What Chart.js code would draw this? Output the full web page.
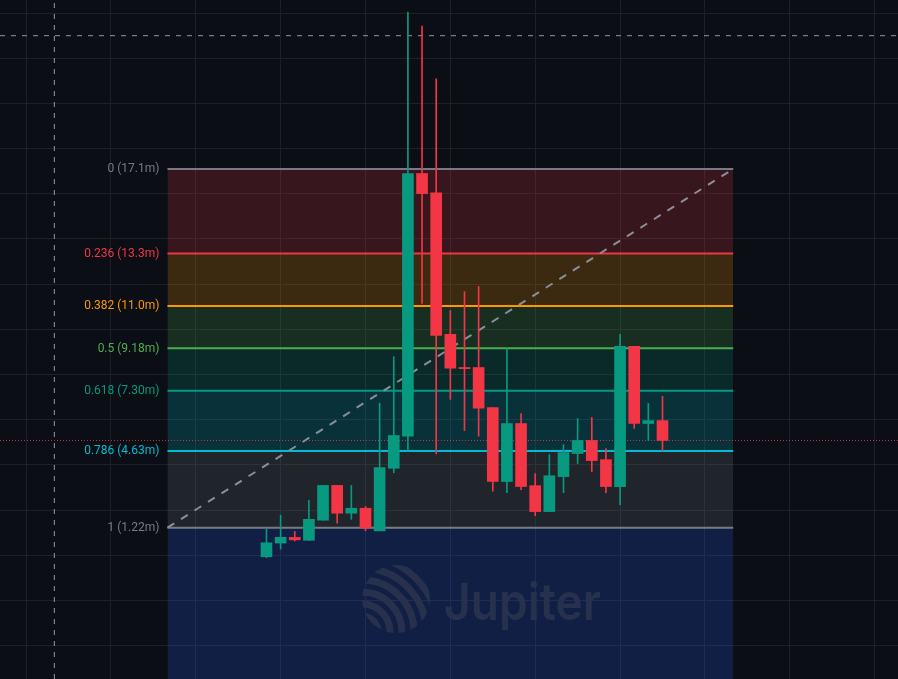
<!DOCTYPE html>
<html>
<head>
<meta charset="utf-8">
<script src="https://cdn.jsdelivr.net/npm/chart.js"></script>
<style>
  html, body { margin: 0; padding: 0; background: #0b0e14; overflow: hidden; }
  #chart { display: block; }
</style>
</head>
<body>
<canvas id="chart" width="898" height="679"></canvas>
<script>
// bar number of every candle on the time axis
var bars = [2, 3, 4, 5, 6, 7, 8, 9, 10, 11, 12, 13, 14, 15, 16, 17, 18, 19, 20, 21, 22, 23, 24, 25, 26, 27, 28, 29, 30];

// prices in millions
var opens  = [-0.07, 0.54, 0.79, 0.66, 1.55, 3.09, 1.86, 2.08, 1.08, 3.85, 5.27, 16.90, 16.04, 9.78, 8.31, 8.31, 6.54, 3.26, 5.83, 3.08, 1.93, 3.48, 4.50, 5.08, 4.23, 3.04, 9.25, 5.83, 5.96];
var highs  = [1.20, 1.77, 1.05, 2.43, 3.09, 3.09, 3.09, 2.16, 6.73, 8.79, 24.05, 23.43, 21.09, 10.83, 11.67, 11.90, 6.54, 9.16, 6.27, 3.61, 4.46, 4.90, 6.05, 6.10, 4.72, 9.78, 9.25, 6.72, 7.03];
var lows   = [-0.11, 0.27, 0.63, 0.66, 1.55, 1.42, 1.59, 1.08, 1.08, 3.65, 4.64, 11.15, 4.48, 6.90, 5.52, 5.27, 2.83, 2.77, 2.90, 1.75, 1.93, 2.77, 4.06, 3.70, 2.77, 2.24, 5.61, 5.08, 4.63];
var closes = [0.55, 0.79, 0.68, 1.59, 3.09, 1.86, 2.08, 1.20, 3.88, 5.30, 16.90, 16.01, 9.73, 8.28, 8.26, 6.51, 3.27, 5.83, 3.04, 1.93, 3.52, 4.54, 5.08, 4.19, 3.04, 9.25, 5.83, 5.96, 5.08];

// fibonacci retracement
var fibHigh = 17.1;
var fibLow = 1.22;
var fibStart = -5;
var fibEnd = 35;
var fibRatios = [0, 0.236, 0.382, 0.5, 0.618, 0.786, 1];
var fibLabels = ['0 (17.1m)', '0.236 (13.3m)', '0.382 (11.0m)', '0.5 (9.18m)', '0.618 (7.30m)', '0.786 (4.63m)', '1 (1.22m)'];
var fibColors = ['#787b86', '#f23645', '#ff9800', '#4caf50', '#089981', '#00bcd4', '#787b86'];
var zoneColors = ['rgba(242,54,69,0.2)', 'rgba(255,152,0,0.2)', 'rgba(76,175,80,0.2)', 'rgba(8,153,129,0.2)',
                  'rgba(0,188,212,0.2)', 'rgba(120,123,134,0.2)', 'rgba(41,98,255,0.2)'];

// crosshair
var crossX = -13;
var crossY = 23.0;

var xMin = -16.84, xMax = 46.65;
var yMin = -5.48, yMax = 24.58;

var green = '#089981';
var red = '#f23645';
var gridColor = '#1c2029';

var candleColors = bars.map(function(b, i) { return closes[i] >= opens[i] ? green : red; });
var lastPrice = closes[closes.length - 1];

function fibValue(r) { return fibHigh - r * (fibHigh - fibLow); }

var datasets = [];
fibRatios.forEach(function(r, i) {
    var v = fibValue(r);
    datasets.push({
        type: 'line',
        data: [{x: fibStart, y: v}, {x: fibEnd, y: v}],
        borderColor: fibColors[i],
        borderWidth: 2,
        backgroundColor: zoneColors[i],
        fill: i < fibRatios.length - 1 ? '+1' : 'start',
        pointRadius: 0,
        order: 10
    });
});

// trend line of the fib tool
datasets.push({
    type: 'line',
    data: [{x: fibStart, y: fibLow}, {x: fibEnd, y: fibHigh}],
    borderColor: '#8b8e97',
    borderWidth: 2,
    borderDash: [8, 8],
    pointRadius: 0,
    fill: false,
    order: 9
});

// last price line
datasets.push({
    type: 'line',
    data: [{x: xMin, y: lastPrice}, {x: xMax, y: lastPrice}],
    borderColor: 'rgba(242,54,69,0.85)',
    borderWidth: 1,
    borderDash: [1, 2],
    pointRadius: 0,
    fill: false,
    order: 8
});

// crosshair lines
datasets.push({
    type: 'line',
    data: [{x: xMin, y: crossY}, {x: xMax, y: crossY}],
    borderColor: '#9598a1',
    borderWidth: 1,
    borderDash: [5, 6],
    pointRadius: 0,
    fill: false,
    order: 8
});
datasets.push({
    type: 'line',
    data: [{x: crossX, y: yMin}, {x: crossX, y: yMax}],
    borderColor: '#9598a1',
    borderWidth: 1,
    borderDash: [5, 6],
    pointRadius: 0,
    fill: false,
    order: 8
});

// wicks and bodies
datasets.push({
    type: 'bar',
    data: bars.map(function(b, i) { return {x: b, y: [lows[i], highs[i]]}; }),
    backgroundColor: candleColors,
    barThickness: 1,
    grouped: false,
    order: 2
});
datasets.push({
    type: 'bar',
    data: bars.map(function(b, i) { return {x: b, y: [opens[i], closes[i]]}; }),
    backgroundColor: candleColors,
    barThickness: 11,
    grouped: false,
    order: 1
});

var background = {
    id: 'background',
    beforeDraw: function(chart) {
        var ctx = chart.ctx;
        ctx.save();
        ctx.fillStyle = '#0b0e14';
        ctx.fillRect(0, 0, chart.width, chart.height);
        ctx.restore();
    }
};

var fibText = {
    id: 'fibText',
    afterDatasetsDraw: function(chart) {
        var ctx = chart.ctx, xs = chart.scales.x, ys = chart.scales.y;
        ctx.save();
        ctx.font = '12px Roboto';
        ctx.textAlign = 'right';
        ctx.textBaseline = 'middle';
        fibRatios.forEach(function(r, i) {
            ctx.fillStyle = fibColors[i];
            ctx.fillText(fibLabels[i], xs.getPixelForValue(fibStart) - 8, ys.getPixelForValue(fibValue(r)) + 0.5);
        });
        ctx.restore();
    }
};

var watermark = {
    id: 'watermark',
    afterDatasetsDraw: function(chart) {
        var ctx = chart.ctx;
        var col = '#27314d';
        ctx.save();
        ctx.beginPath();
        ctx.arc(396, 599, 34, 0, Math.PI * 2);
        ctx.clip();
        ctx.strokeStyle = col;
        ctx.lineWidth = 7;
        for (var k = 0; k < 6; k++) {
            ctx.beginPath();
            ctx.arc(362, 632, 16 + k * 12, 0, Math.PI * 2);
            ctx.stroke();
        }
        ctx.restore();
        ctx.save();
        ctx.fillStyle = col;
        ctx.font = '600 51px Inter';
        ctx.textBaseline = 'alphabetic';
        ctx.fillText('Jupiter', 444, 620, 157);
        ctx.restore();
    }
};

var ctx = document.getElementById('chart').getContext('2d');
var chart = new Chart(ctx, {
    type: 'bar',
    data: { datasets: datasets },
    options: {
        responsive: false,
        animation: false,
        layout: { padding: 0 },
        plugins: {
            legend: { display: false },
            tooltip: { enabled: false }
        },
        scales: {
            x: {
                type: 'linear',
                min: xMin,
                max: xMax,
                offset: false,
                ticks: { display: false, stepSize: 6, includeBounds: false },
                grid: { color: gridColor, drawTicks: false },
                border: { display: false }
            },
            y: {
                type: 'linear',
                min: yMin,
                max: yMax,
                ticks: { display: false, stepSize: 2, includeBounds: false },
                grid: { color: gridColor, drawTicks: false },
                border: { display: false }
            }
        }
    },
    plugins: [background, fibText, watermark]
});
</script>
</body>
</html>
